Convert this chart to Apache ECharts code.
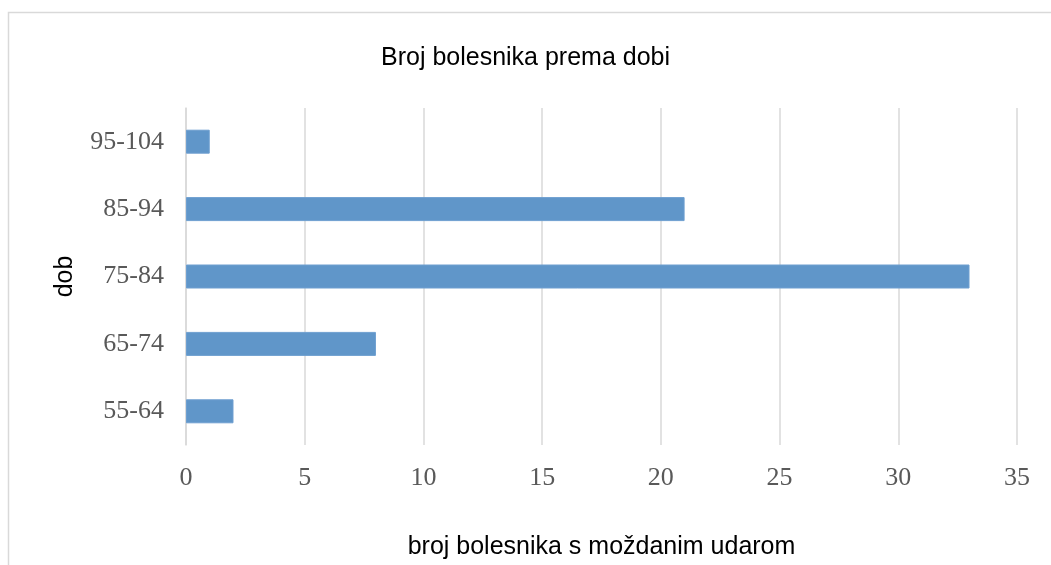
<!DOCTYPE html>
<html>
<head>
<meta charset="utf-8">
<script src="https://cdn.jsdelivr.net/npm/echarts@6/dist/echarts.min.js"></script>
<style>
  html, body { margin: 0; padding: 0; background: #fff; overflow: hidden; }
  #chart { width: 1051px; height: 565px; }
</style>
</head>
<body>
<div id="chart"></div>
<script>
// age groups, bottom to top
const ageGroups = ["55-64", "65-74", "75-84", "85-94", "95-104"];
const patientCounts = [2, 8, 33, 21, 1];

const chart = echarts.init(document.getElementById("chart"));

const option = {
  animation: false,
  backgroundColor: "#fff",
  // outer chart frame (only left + top edges are visible in the window)
  graphic: [{
    type: "rect",
    shape: { x: 8.5, y: 12.5, width: 1200, height: 700 },
    style: { fill: "none", stroke: "#d9d9d9", lineWidth: 1.5 },
    silent: true
  }],
  title: {
    text: "Broj bolesnika prema dobi",
    left: "center",
    top: 41,
    textStyle: {
      fontFamily: "Liberation Sans",
      fontSize: 25,
      fontWeight: "normal",
      color: "#000"
    }
  },
  grid: {
    left: 186,
    right: 34,
    top: 108,
    bottom: 117
  },
  xAxis: {
    type: "value",
    min: 0,
    max: 35,
    interval: 5,
    name: "broj bolesnika s moždanim udarom",
    nameLocation: "middle",
    nameGap: 90,
    nameTextStyle: {
      fontFamily: "Liberation Sans",
      fontSize: 25,
      color: "#000"
    },
    axisLine: { show: false },
    axisTick: { show: false },
    axisLabel: {
      margin: 20,
      fontFamily: "Liberation Serif",
      fontSize: 26,
      color: "#595959"
    },
    splitLine: {
      lineStyle: { color: "#d9d9d9", width: 1.5 }
    }
  },
  yAxis: {
    type: "category",
    data: ageGroups,
    name: "dob",
    nameLocation: "middle",
    nameGap: 108,
    nameRotate: 90,
    nameTextStyle: {
      fontFamily: "Liberation Sans",
      fontSize: 25,
      color: "#000"
    },
    axisLine: {
      show: true,
      lineStyle: { color: "#d9d9d9", width: 1.5 }
    },
    axisTick: { show: false },
    axisLabel: {
      margin: 22,
      fontFamily: "Liberation Serif",
      fontSize: 26,
      color: "#595959"
    }
  },
  series: [{
    type: "bar",
    data: patientCounts,
    barWidth: 24,
    itemStyle: {
      color: "#6096c9",
      borderColor: "#6e9fd0",
      borderWidth: 1
    }
  }]
};

chart.setOption(option);
</script>
</body>
</html>
